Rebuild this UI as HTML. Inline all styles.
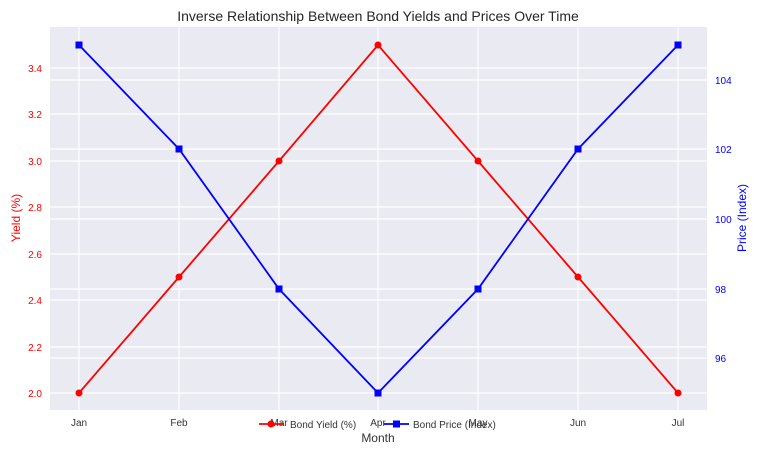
<!DOCTYPE html><html><head><style>body{margin:0;background:#fff}svg{display:block}</style></head><body>
<svg width="760" height="456" xmlns="http://www.w3.org/2000/svg" font-family="Liberation Sans, sans-serif">
<rect x="50" y="27" width="657" height="383" fill="#eaeaf2"/>
<g stroke="#fff" stroke-width="1.2">
<line x1="50" x2="707" y1="393" y2="393"/><line x1="50" x2="707" y1="347" y2="347"/><line x1="50" x2="707" y1="300" y2="300"/><line x1="50" x2="707" y1="254" y2="254"/><line x1="50" x2="707" y1="207" y2="207"/><line x1="50" x2="707" y1="161" y2="161"/><line x1="50" x2="707" y1="114" y2="114"/><line x1="50" x2="707" y1="68" y2="68"/>
<line x1="50" x2="707" y1="80" y2="80"/><line x1="50" x2="707" y1="149" y2="149"/><line x1="50" x2="707" y1="219" y2="219"/><line x1="50" x2="707" y1="289" y2="289"/><line x1="50" x2="707" y1="358" y2="358"/>
<line y1="27" y2="410" x1="79" x2="79"/><line y1="27" y2="410" x1="179" x2="179"/><line y1="27" y2="410" x1="279" x2="279"/><line y1="27" y2="410" x1="378" x2="378"/><line y1="27" y2="410" x1="478" x2="478"/><line y1="27" y2="410" x1="578" x2="578"/><line y1="27" y2="410" x1="678" x2="678"/>
</g>
<polyline fill="none" stroke="#f00" stroke-width="1.8" points="79,393 179,277 279,161 378,45 478,161 578,277 678,393"/>
<g fill="#f00"><circle cx="79" cy="393" r="3.5"/><circle cx="179" cy="277" r="3.5"/><circle cx="279" cy="161" r="3.5"/><circle cx="378" cy="45" r="3.5"/><circle cx="478" cy="161" r="3.5"/><circle cx="578" cy="277" r="3.5"/><circle cx="678" cy="393" r="3.5"/></g>
<polyline fill="none" stroke="#00f" stroke-width="1.8" points="79,45 179,149 279,289 378,393 478,289 578,149 678,45"/>
<g fill="#00f"><rect x="75.5" y="41.5" width="7" height="7"/><rect x="175.5" y="145.5" width="7" height="7"/><rect x="275.5" y="285.5" width="7" height="7"/><rect x="374.5" y="389.5" width="7" height="7"/><rect x="474.5" y="285.5" width="7" height="7"/><rect x="574.5" y="145.5" width="7" height="7"/><rect x="674.5" y="41.5" width="7" height="7"/></g>
<g fill="#f00" font-size="10" text-anchor="end"><text x="42" y="397">2.0</text><text x="42" y="351">2.2</text><text x="42" y="304">2.4</text><text x="42" y="258">2.6</text><text x="42" y="211">2.8</text><text x="42" y="165">3.0</text><text x="42" y="118">3.2</text><text x="42" y="72">3.4</text></g>
<g fill="#00f" font-size="10"><text x="715" y="84">104</text><text x="715" y="153">102</text><text x="715" y="223">100</text><text x="715" y="293">98</text><text x="715" y="362">96</text></g>
<g fill="#333" font-size="10" text-anchor="middle"><text x="79" y="426">Jan</text><text x="179" y="426">Feb</text><text x="279" y="426">Mar</text><text x="378" y="426">Apr</text><text x="478" y="426">May</text><text x="578" y="426">Jun</text><text x="678" y="426">Jul</text></g>
<text x="378" y="442" font-size="12" fill="#333" text-anchor="middle">Month</text>
<text x="378" y="21" font-size="14" fill="#262626" text-anchor="middle">Inverse Relationship Between Bond Yields and Prices Over Time</text>
<text transform="translate(20,218) rotate(-90)" font-size="12" fill="#f00" text-anchor="middle">Yield (%)</text>
<text transform="translate(746,218) rotate(-90)" font-size="12" fill="#00f" text-anchor="middle">Price (Index)</text>
<line x1="259" x2="284" y1="424" y2="424" stroke="#f00" stroke-width="1.8"/><circle cx="271" cy="424" r="3.5" fill="#f00"/>
<text x="290" y="428" font-size="10" fill="#333">Bond Yield (%)</text>
<line x1="384" x2="409" y1="424" y2="424" stroke="#00f" stroke-width="1.8"/><rect x="393" y="420.5" width="7" height="7" fill="#00f"/>
<text x="413" y="428" font-size="10" fill="#333">Bond Price (Index)</text>
</svg></body></html>
